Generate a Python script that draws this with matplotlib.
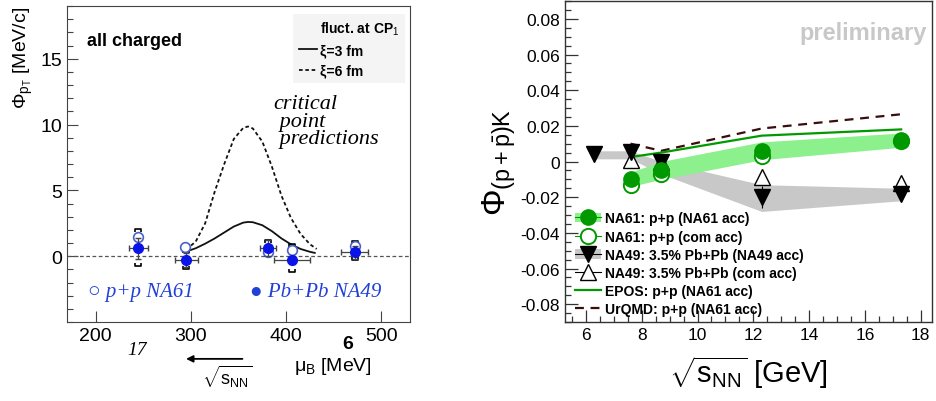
import numpy as np
import matplotlib.pyplot as plt
from matplotlib.patches import Patch
from matplotlib.lines import Line2D
from matplotlib.path import Path
from matplotlib.ticker import MultipleLocator

plt.rcParams['font.family'] = ['Liberation Sans', 'DejaVu Sans']
plt.rcParams['mathtext.fontset'] = 'custom'
plt.rcParams['mathtext.rm'] = 'Liberation Sans'
plt.rcParams['mathtext.it'] = 'Liberation Sans'
plt.rcParams['mathtext.bf'] = 'Liberation Sans:bold'

# ---- left panel: Phi_pT vs mu_B ----
mu_pp = [245, 294, 381, 406, 472]
phi_pp = [1.45, 0.7, 0.35, 0.45, 0.8]
mu_pb = [245, 295, 381, 406, 472]
phi_pb = [0.6, -0.3, 0.6, -0.3, 0.3]
mu_err = [10, 12, 8, 19, 14]
phi_pb_err = [0.8, 0.55, 0.6, 0.3, 0.5]
syst_lo = [-0.75, -1.0, 0.0, -1.2, -0.3]
syst_hi = [2.05, 0.5, 1.2, 0.9, 1.15]

xi3_mu = [295, 305, 315, 325, 335, 345, 355, 360, 365, 375, 385, 395, 405, 415, 425, 430]
xi3_phi = [0.35, 0.6, 0.95, 1.35, 1.8, 2.25, 2.55, 2.6, 2.58, 2.35, 1.9, 1.35, 0.9, 0.55, 0.33, 0.25]
xi6_mu = [295, 305, 315, 325, 335, 345, 355, 360, 365, 375, 385, 395, 405, 415, 425, 432]
xi6_phi = [0.5, 1.1, 2.5, 4.9, 7.0, 8.9, 9.75, 9.85, 9.7, 8.7, 6.8, 4.6, 2.9, 1.7, 0.9, 0.55]

# ---- right panel: Phi_(p+pbar)K vs sqrt(s_NN) ----
snn_na61 = [7.6, 8.7, 12.3, 17.3]
phi_na61 = [-0.010, -0.005, 0.0057, 0.012]
phi_na61_err = [0.003, 0.003, 0.003, 0.003]
phi_na61_com = [-0.013, -0.007, 0.003, 0.0115]
band_na61_lo = [-0.014, -0.010, 0.001, 0.008]
band_na61_hi = [-0.006, 0.000, 0.011, 0.016]

snn_na49 = [6.3, 7.6, 8.7, 12.3, 17.3]
phi_na49 = [0.004, 0.0055, 0.0, -0.020, -0.018]
phi_na49_err = [0.002, 0.002, 0.003, 0.006, 0.003]
band_na49_lo = [0.0015, 0.0015, -0.007, -0.028, -0.022]
band_na49_hi = [0.006, 0.006, 0.000, -0.013, -0.015]
snn_na49_com = [7.6, 8.7, 12.3, 17.3]
phi_na49_com = [0.001, 0.0, -0.0085, -0.012]

snn_model = [7.6, 8.7, 12.3, 17.3]
phi_epos = [0.0025, 0.005, 0.0145, 0.018]
phi_urqmd = [0.010, 0.006, 0.0185, 0.0265]

fig = plt.figure(figsize=(9.36, 4.02), dpi=100)
axl = fig.add_axes([0.0716, 0.1965, 0.3665, 0.786])
axr = fig.add_axes([0.6036, 0.1965, 0.392, 0.7985])

blue = '#0a14e6'
hand_blue = '#2040d8'

# left panel
axl.axhline(0, color='#555555', lw=0.9, ls=(0, (3, 2)))
l3, = axl.plot(xi3_mu, xi3_phi, color='#111111', lw=1.3)
l6, = axl.plot(xi6_mu, xi6_phi, color='#111111', lw=1.3, ls=(0, (2, 1.5)))

top_br = Path([(-1, -0.8), (-1, 0), (1, 0), (1, -0.8)], [1, 2, 2, 2])
bot_br = Path([(-1, 0.8), (-1, 0), (1, 0), (1, 0.8)], [1, 2, 2, 2])
axl.plot(mu_pb, syst_hi, ls='none', marker=top_br, ms=5, mfc='none', mec='black', mew=1.2)
axl.plot(mu_pb, syst_lo, ls='none', marker=bot_br, ms=5, mfc='none', mec='black', mew=1.2)

axl.plot(mu_pp, phi_pp, ls='none', marker='o', ms=7, mfc='white', mec='#4a62c8', mew=1.2)
axl.errorbar(mu_pb, phi_pb, xerr=mu_err, yerr=phi_pb_err, fmt='o', ms=7, color=blue,
             ecolor='#444444', elinewidth=0.9, capsize=2)

axl.set_xlim(170, 530)
axl.set_ylim(-5, 19)
axl.xaxis.set_major_locator(MultipleLocator(100))
axl.set_yticks([0, 5, 10, 15])
axl.yaxis.set_minor_locator(MultipleLocator(1))
axl.tick_params(direction='in', labelsize=14, length=8, width=0.8, color='#444444')
axl.tick_params(which='minor', direction='in', length=4, width=0.8, color='#444444')
for s in axl.spines.values():
    s.set_color('#444444')
axl.set_ylabel('Φ$_{p_T}$ [MeV/c]', fontsize=14, loc='top')

blank = Line2D([], [], color='none')
axl.legend(handles=[blank, l3, l6], labels=['fluct. at CP$_1$', 'ξ=3 fm', 'ξ=6 fm'],
           loc='upper left', bbox_to_anchor=(0.66, 0.975), frameon=True, facecolor='#f4f4f4',
           edgecolor='none', framealpha=1, handlelength=1.3, handletextpad=0.2, fancybox=False,
           prop={'size': 10, 'weight': 'bold'}, labelspacing=0.45, borderpad=0.4,
           borderaxespad=0)

axl.text(190.5, 16.4, 'all charged', fontsize=13, fontweight='bold', va='center')
axl.text(387, 12.3, 'critical\n point\n predictions', fontsize=16, va='top',
         family=['Liberation Serif', 'DejaVu Serif'], style='italic', linespacing=0.9)
axl.text(192, -2.65, '○ p+p NA61', fontsize=15, color=hand_blue, va='center',
         family=['Liberation Serif', 'DejaVu Sans'], style='italic')
axl.text(362, -2.65, '● Pb+Pb NA49', fontsize=15, color=hand_blue, va='center',
         family=['Liberation Serif', 'DejaVu Sans'], style='italic')
axl.text(244, -7.1, '17', fontsize=14, va='center', ha='center', clip_on=False,
         family=['Liberation Serif'], style='italic')
axl.text(465, -6.6, '6', fontsize=14, va='center', ha='center', fontweight='bold', clip_on=False)
axl.annotate('', xy=(292, -7.8), xytext=(357, -7.8), xycoords='data', annotation_clip=False,
             arrowprops=dict(arrowstyle='-|>', color='black', lw=1.3))
axl.text(338, -9.1, '$\\sqrt{s_{NN}}$', fontsize=13, va='center', ha='center', clip_on=False)
axl.text(449, -8.3, 'μ$_B$ [MeV]', fontsize=14, va='center', ha='center', clip_on=False)

# right panel
green = '#009a00'
axr.fill_between(snn_na49, band_na49_lo, band_na49_hi, color='#c8c8c8', lw=0)
axr.fill_between(snn_na61, band_na61_lo, band_na61_hi, color='#8cf08c', lw=0)
axr.plot(snn_model, phi_urqmd, color='#3a0c0c', lw=1.6, ls=(0, (4, 3)))
axr.plot(snn_model, phi_epos, color=green, lw=1.6)
axr.plot(snn_na49_com, phi_na49_com, ls='none', marker='^', ms=11, mfc='white', mec='black', mew=1.0)
axr.errorbar(snn_na49, phi_na49, yerr=phi_na49_err, fmt='v', ms=11, color='black', elinewidth=0.8)
axr.plot(snn_na61, phi_na61_com, ls='none', marker='o', ms=11, mfc='white', mec=green, mew=1.4)
axr.errorbar(snn_na61, phi_na61, yerr=phi_na61_err, fmt='o', ms=11, color=green,
             ecolor='#666666', elinewidth=0.8)

axr.set_xlim(5.25, 18.4)
axr.set_ylim(-0.09, 0.09)
axr.xaxis.set_major_locator(MultipleLocator(2))
axr.xaxis.set_minor_locator(MultipleLocator(0.5))
axr.yaxis.set_minor_locator(MultipleLocator(0.005))
axr.set_yticks([-0.08, -0.06, -0.04, -0.02, 0, 0.02, 0.04, 0.06, 0.08])
axr.set_yticklabels(['-0.08', '-0.06', '-0.04', '-0.02', '0', '0.02', '0.04', '0.06', '0.08'])
axr.tick_params(direction='in', labelsize=12.5, length=9, width=0.9, color='#333333')
axr.tick_params(which='minor', direction='in', length=4.5, width=0.9, color='#333333')
for s in axr.spines.values():
    s.set_color('#333333')
    s.set_linewidth(1.0)
axr.set_ylabel('Φ$_{(p+\\bar{p})K}$', fontsize=24, labelpad=2)
axr.set_xlabel('$\\sqrt{s_{NN}}$ [GeV]', fontsize=21, labelpad=8)
axr.text(0.986, 0.903, 'preliminary', transform=axr.transAxes, ha='right', va='center',
         fontsize=17, fontweight='bold', color='#c8c8c8')

h1 = (Patch(facecolor='#8cf08c', edgecolor='none'),
      Line2D([], [], color=green, marker='o', ms=11, ls='-', lw=0.8))
h2 = Line2D([], [], color=green, marker='o', ms=11, mfc='white', mew=1.4, ls='-', lw=0.8)
h3 = (Patch(facecolor='#c8c8c8', edgecolor='none'),
      Line2D([], [], color='black', marker='v', ms=11, ls='-', lw=0.8))
h4 = Line2D([], [], color='black', marker='^', ms=11, mfc='white', ls='-', lw=0.8)
h5 = Line2D([], [], color=green, lw=1.6)
h6 = Line2D([], [], color='#3a0c0c', lw=1.6, ls=(0, (4, 3)))
axr.legend([h1, h2, h3, h4, h5, h6],
           ['NA61: p+p (NA61 acc)', 'NA61: p+p (com acc)', 'NA49: 3.5% Pb+Pb (NA49 acc)',
            'NA49: 3.5% Pb+Pb (com acc)', 'EPOS: p+p (NA61 acc)', 'UrQMD: p+p (NA61 acc)'],
           loc='upper left', bbox_to_anchor=(0.0, 0.375), frameon=False,
           prop={'size': 10, 'weight': 'bold'}, handlelength=1.9, handletextpad=0.25,
           labelspacing=0.3, borderpad=0.2)

fig.savefig('out.png', dpi=100)
